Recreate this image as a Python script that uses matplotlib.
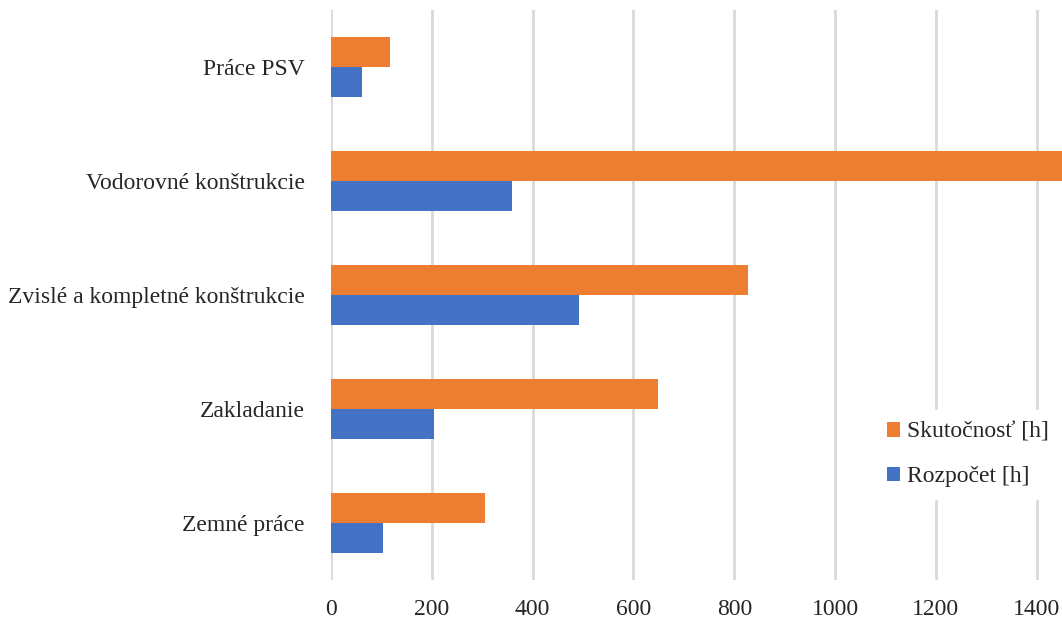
import numpy as np
import matplotlib
matplotlib.use("Agg")
import matplotlib.pyplot as plt

plt.rcParams['font.family'] = ['Liberation Serif', 'DejaVu Serif']

categories = ["Zemné práce", "Zakladanie", "Zvislé a kompletné konštrukcie",
              "Vodorovné konštrukcie", "Práce PSV"]
rozpocet = [104, 204, 492, 358, 62]
skutocnost = [305, 648, 828, 1520, 116]
xticks = [0, 200, 400, 600, 800, 1000, 1200, 1400]

fig = plt.figure(figsize=(10.62, 6.19), dpi=100)
ax = fig.add_axes([0.3117, 0.063, 0.6883, 0.921])

y = np.arange(len(categories))
h = 0.26
ax.barh(y - h / 2, rozpocet, height=h, color="#4472C4", label="Rozpočet [h]", zorder=3)
ax.barh(y + h / 2, skutocnost, height=h, color="#ED7D31", label="Skutočnosť [h]", zorder=3)

ax.set_xlim(0, 1450)
ax.set_ylim(-0.5, 4.5)
ax.set_xticks(xticks)
ax.set_yticks(y)
ax.set_yticklabels(categories, fontsize=17, color="#262626", va="center_baseline")
ax.tick_params(axis='x', labelsize=17, colors="#262626", pad=14, length=0)
ax.tick_params(axis='y', length=0, pad=19)
ax.xaxis.grid(True, color="#D9D9D9", linewidth=2, zorder=0)
for s in ax.spines.values():
    s.set_visible(False)

handles, labels = ax.get_legend_handles_labels()
leg = ax.legend(handles[::-1], labels[::-1], loc="center left", bbox_to_anchor=(0.744, 0.22),
                frameon=True, fontsize=17, handlelength=0.55, handleheight=0.55,
                handletextpad=0.3, labelspacing=1.0, borderpad=0.5, borderaxespad=0)
leg.get_frame().set_facecolor("white")
leg.get_frame().set_edgecolor("white")
leg.get_frame().set_alpha(1)
leg.set_zorder(5)
for t in leg.get_texts():
    t.set_color("#262626")

fig.savefig("out.png", dpi=100)
